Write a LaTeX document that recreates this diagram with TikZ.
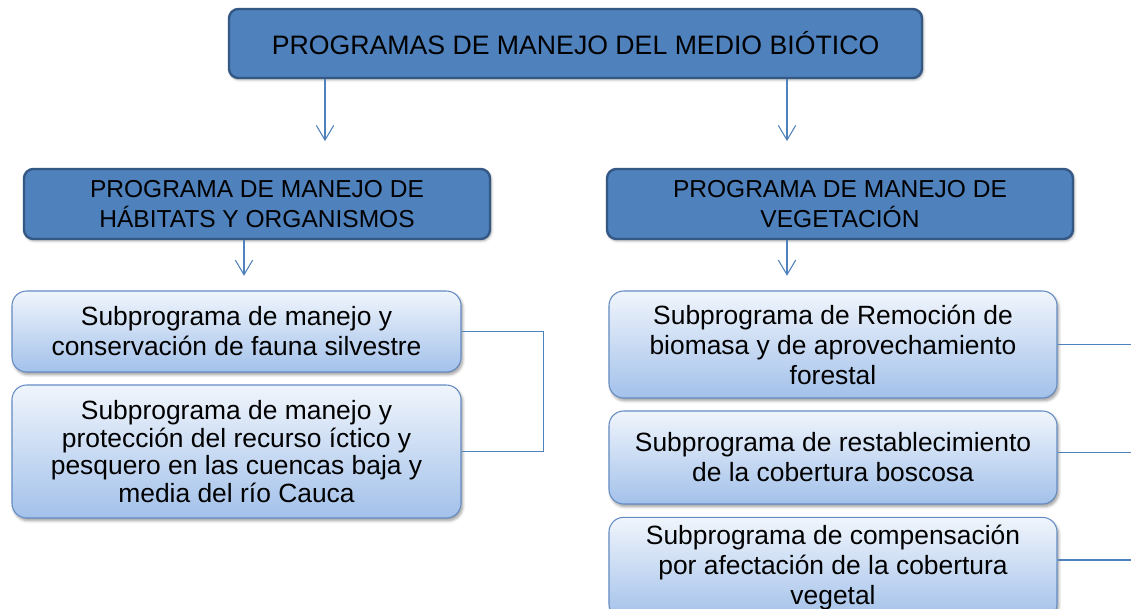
\documentclass[tikz,border=0pt]{standalone}
\usepackage{fontspec}
\setmainfont{Liberation Sans}
\usetikzlibrary{arrows.meta, positioning, calc, shadows.blur}
\definecolor{progblue}{RGB}{79,129,189}
\definecolor{progedge}{RGB}{52,88,132}
\definecolor{subtop}{RGB}{240,245,252}
\definecolor{subbot}{RGB}{163,193,234}
\definecolor{subedge}{RGB}{100,140,195}
\definecolor{linkblue}{RGB}{79,129,189}

\begin{document}
\begin{tikzpicture}[
    x=0.75pt, y=-0.75pt,
    prog/.style={
        rectangle, rounded corners=7pt, minimum width=#1,
        draw=progedge, fill=progblue, line width=1.8pt, align=center,
        inner sep=2pt, blur shadow={shadow xshift=0.8pt, shadow yshift=-1.2pt, shadow blur steps=4}
    },
    subprog/.style={
        rectangle, rounded corners=11pt, minimum width=#1,
        draw=subedge, top color=subtop, bottom color=subbot, line width=0.8pt,
        align=center, inner sep=2pt,
        font=\fontsize{19.8}{22.5}\selectfont,
        blur shadow={shadow xshift=1.2pt, shadow yshift=-2pt, shadow blur steps=5}
    },
    arr/.style={-{Straight Barb[length=11pt, width=13pt]}, line width=0.8pt, color=linkblue},
    link/.style={line width=0.8pt, color=linkblue}
]
\useasboundingbox (0,0) rectangle (1131,609);

% Main program
\node[prog=519.75pt, minimum height=51.75pt, font=\fontsize{20}{23}\selectfont] (top) at (575.5,43.5)
    {PROGRAMAS DE MANEJO DEL MEDIO BIÓTICO};

% Programs
\node[prog=349.5pt, minimum height=52.5pt, font=\fontsize{18.4}{23}\selectfont] (hab) at (257,204)
    {PROGRAMA DE MANEJO DE\\HÁBITATS Y ORGANISMOS};
\node[prog=349.5pt, minimum height=52.5pt, font=\fontsize{18.4}{23}\selectfont] (veg) at (840,204)
    {PROGRAMA DE MANEJO DE\\VEGETACIÓN};

% Habitat subprograms
\node[subprog=336.75pt, minimum height=60.75pt] (fauna) at (236.5,331.5)
    {Subprograma de manejo y\\conservación de fauna silvestre};
\node[subprog=336.75pt, minimum height=99.75pt, font=\fontsize{19.8}{20.8}\selectfont] (ictico) at (236.5,451.5)
    {Subprograma de manejo y\\protección del recurso íctico y\\pesquero en las cuencas baja y\\media del río Cauca};

% Vegetation subprograms
\node[subprog=336pt, minimum height=80.25pt] (remocion) at (833,344.5)
    {Subprograma de Remoción de\\biomasa y de aprovechamiento\\forestal};
\node[subprog=336pt, minimum height=69.75pt] (restab) at (833,457.5)
    {Subprograma de restablecimiento\\de la cobertura boscosa};
\node[subprog=336pt, minimum height=76pt] (compens) at (833,568)
    {Subprograma de compensación\\por afectación de la cobertura\\vegetal};

% Arrow columns
\coordinate (colA) at (325,0);
\coordinate (colB) at (787,0);
\coordinate (colC) at (244,0);
\coordinate (edge) at (1131,0);

% Arrows
\draw[arr, shorten >=20pt] (top.south -| colA) -- (hab.north -| colA);
\draw[arr, shorten >=20pt] (top.south -| colB) -- (veg.north -| colB);
\draw[arr, shorten >=11pt] (hab.south -| colC) -- (fauna.north -| colC);
\draw[arr, shorten >=11pt] (veg.south -| colB) -- (remocion.north -| colB);

% Bracket and side lines
\draw[link] (fauna.east) -- ++(82,0) |- (ictico.east);
\draw[link] (remocion.east) -- (remocion.east -| edge);
\draw[link] ([yshift=4pt]restab.east) -- ([yshift=4pt]restab.east -| edge);
\draw[link] ([yshift=6pt]compens.east) -- ([yshift=6pt]compens.east -| edge);

\end{tikzpicture}
\end{document}
